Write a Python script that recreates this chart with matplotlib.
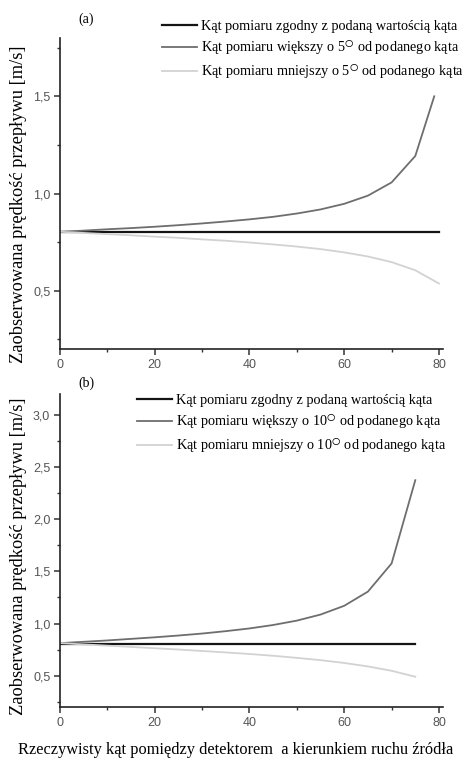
import matplotlib
matplotlib.use("Agg")
import matplotlib.pyplot as plt
from matplotlib.ticker import MultipleLocator, FuncFormatter

plt.rcParams['mathtext.fontset'] = 'stix'

# ---- data ----
angles_a = [0, 5, 10, 15, 20, 25, 30, 35, 40, 45, 50, 55, 60, 65, 70, 75, 80]
base_a = [0.8] * len(angles_a)
angles_a_up = [0, 5, 10, 15, 20, 25, 30, 35, 40, 45, 50, 55, 60, 65, 70, 75, 79]
upper_a = [0.803, 0.809, 0.816, 0.822, 0.829, 0.837, 0.846, 0.856, 0.867, 0.880,
           0.897, 0.918, 0.947, 0.989, 1.057, 1.193, 1.50]
lower_a = [0.803, 0.797, 0.791, 0.785, 0.778, 0.772, 0.764, 0.757, 0.748, 0.738,
           0.727, 0.714, 0.697, 0.676, 0.647, 0.605, 0.537]

angles_b = [0, 5, 10, 15, 20, 25, 30, 35, 40, 45, 50, 55, 60, 65, 70, 75]
base_b = [0.8] * len(angles_b)
upper_b = [0.812, 0.825, 0.838, 0.853, 0.868, 0.885, 0.904, 0.927, 0.953, 0.986,
           1.028, 1.086, 1.170, 1.306, 1.576, 2.374]
lower_b = [0.812, 0.800, 0.788, 0.776, 0.763, 0.751, 0.737, 0.723, 0.708, 0.691,
           0.671, 0.649, 0.622, 0.589, 0.547, 0.490]

labels_a = ["Kąt pomiaru zgodny z podaną wartością kąta",
            r"Kąt pomiaru większy o 5$^{\bigcirc}$ od podanego kąta",
            r"Kąt pomiaru mniejszy o 5$^{\bigcirc}$ od podanego kąta"]
labels_b = ["Kąt pomiaru zgodny z podaną wartością kąta",
            r"Kąt pomiaru większy o 10$^{\bigcirc}$ od podanego kąta",
            r"Kąt pomiaru mniejszy o 10$^{\bigcirc}$ od podanego kąta"]
ylabel = "Zaobserwowana prędkość przepływu [m/s]"
xlabel = "Rzeczywisty kąt pomiędzy detektorem  a kierunkiem ruchu źródła"

serif = ['Liberation Serif', 'DejaVu Serif']
sans = ['Liberation Sans', 'DejaVu Sans']

c_base = '#151515'
c_up = '#6e6e6e'
c_low = '#d2d2d2'

fig = plt.figure(figsize=(4.69, 7.61), dpi=100)
W, H = 469, 761

def mkax(left, right, top, bottom):
    return fig.add_axes([left / W, 1 - bottom / H, (right - left) / W, (bottom - top) / H])

ax1 = mkax(60, 443, 38, 349)
ax2 = mkax(60, 443, 394, 707)

def comma(v, pos):
    s = f"{v:.1f}"
    return s.replace('.', ',')

def style(ax, ymin, ymax):
    ax.set_xlim(0, 80.85)
    ax.set_ylim(ymin, ymax)
    for s in ['top', 'right']:
        ax.spines[s].set_visible(False)
    for s in ['left', 'bottom']:
        ax.spines[s].set_linewidth(1.2)
        ax.spines[s].set_color('#222222')
    ax.xaxis.set_major_locator(MultipleLocator(20))
    ax.xaxis.set_minor_locator(MultipleLocator(10))
    ax.yaxis.set_major_locator(MultipleLocator(0.5))
    ax.yaxis.set_minor_locator(MultipleLocator(0.25))
    ax.yaxis.set_major_formatter(FuncFormatter(comma))
    ax.tick_params(which='major', direction='out', length=4, width=1.1, color='#333333',
                   labelsize=9, labelcolor='#555555', pad=3)
    ax.tick_params(which='minor', direction='out', length=2.5, width=1.0, color='#333333')
    for lab in ax.get_xticklabels() + ax.get_yticklabels():
        lab.set_family(sans)

style(ax1, 0.2, 1.8)
style(ax2, 0.2, 3.2)

l1, = ax1.plot(angles_a, base_a, color=c_base, lw=1.6, label=labels_a[0])
l2, = ax1.plot(angles_a_up, upper_a, color=c_up, lw=1.3, label=labels_a[1])
l3, = ax1.plot(angles_a, lower_a, color=c_low, lw=1.3, label=labels_a[2])

m1, = ax2.plot(angles_b, base_b, color=c_base, lw=1.6, label=labels_b[0])
m2, = ax2.plot(angles_b, upper_b, color=c_up, lw=1.3, label=labels_b[1])
m3, = ax2.plot(angles_b, lower_b, color=c_low, lw=1.3, label=labels_b[2])

legkw = dict(frameon=False, prop={'family': serif, 'size': 10.3}, handlelength=2.45,
             handletextpad=0.3, labelspacing=0.42, borderpad=0, borderaxespad=0,
             loc='upper left', bbox_transform=fig.transFigure)
ax1.legend(handles=[l1, l2, l3], bbox_to_anchor=(162 / W, 1 - 20 / H), **legkw)
ax2.legend(handles=[m1, m2, m3], bbox_to_anchor=(137 / W, 1 - 394 / H), **legkw)

fig.text(86 / W, 1 - 19 / H, "(a)", family=serif, fontsize=10, ha='center', va='center')
fig.text(86 / W, 1 - 383 / H, "(b)", family=serif, fontsize=10, ha='center', va='center')

fig.text(19 / W, 1 - 204 / H, ylabel, family=serif, fontsize=13.2, rotation=90,
         ha='center', va='center')
fig.text(19 / W, 1 - 556 / H, ylabel, family=serif, fontsize=13.2, rotation=90,
         ha='center', va='center')
fig.text(236 / W, 1 - 750 / H, xlabel, family=serif, fontsize=11.8, ha='center', va='center')

fig.savefig("out.png", dpi=100)
